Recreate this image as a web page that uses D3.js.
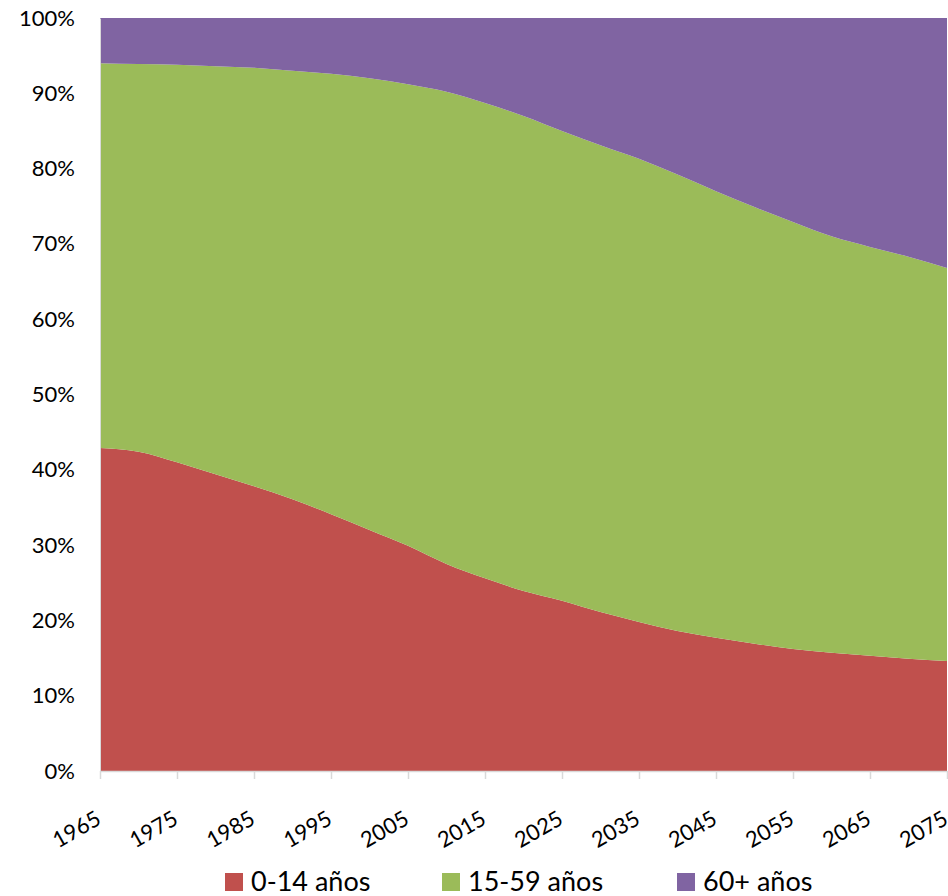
<!DOCTYPE html>
<html>
<head>
<meta charset="utf-8">
<script src="https://cdn.jsdelivr.net/npm/d3@7"></script>
<style>
  html, body { margin: 0; padding: 0; background: #fff; }
  svg { display: block; }
  text { font-family: Lato, "Open Sans", sans-serif; fill: #000; }
</style>
</head>
<body>
<svg id="chart" width="948" height="896"></svg>
<script>
const years = [1965,1970,1975,1980,1985,1990,1995,2000,2005,2010,2015,2020,2025,2030,2035,2040,2045,2050,2055,2060,2065,2070,2075];
const age0_14  = [42.9,42.4,41.0,39.4,37.8,36.1,34.1,32.0,29.9,27.5,25.6,23.9,22.6,21.1,19.8,18.6,17.7,16.9,16.2,15.7,15.3,14.9,14.6];
const age15_59 = [51.1,51.5,52.8,54.2,55.6,56.9,58.5,60.0,61.3,62.7,63.1,63.1,62.4,62.0,61.5,60.6,59.3,58.0,56.7,55.3,54.3,53.4,52.2];
const age60    = [6.0,6.1,6.2,6.4,6.6,7.0,7.4,8.0,8.8,9.8,11.3,13.0,15.0,16.9,18.7,20.8,23.0,25.1,27.1,29.0,30.4,31.7,33.2];
const seriesNames = ["0-14 años","15-59 años","60+ años"];
const seriesColors = ["#C0504D","#9BBB59","#8064A2"];
const tickYears = [1965,1975,1985,1995,2005,2015,2025,2035,2045,2055,2065,2075];
const yTicks = [0,10,20,30,40,50,60,70,80,90,100];

const rows = years.map((y,i) => ({year:y, "0-14 años":age0_14[i], "15-59 años":age15_59[i], "60+ años":age60[i]}));

const svg = d3.select("#chart");
const m = {left:100, right:947, top:18, bottom:771};
const x = d3.scaleLinear().domain([1965,2075]).range([m.left, m.right]);
const y = d3.scaleLinear().domain([0,100]).range([m.bottom, m.top]);

const stack = d3.stack().keys(seriesNames).offset(d3.stackOffsetExpand);
const layers = stack(rows);
const area = d3.area()
  .curve(d3.curveMonotoneX)
  .x(d => x(d.data.year))
  .y0(d => y(d[0]*100))
  .y1(d => y(d[1]*100));

svg.append("g").selectAll("path").data(layers).join("path")
  .attr("d", area)
  .attr("fill", (d,i) => seriesColors[i]);

// Y axis
const yAxis = svg.append("g").attr("transform", `translate(${m.left},0)`)
  .call(d3.axisLeft(y).tickValues(yTicks).tickFormat(d => d + "%").tickSize(0).tickPadding(25));
yAxis.select(".domain").attr("stroke", "#d9d9d9").attr("stroke-width", 1);
yAxis.selectAll("text").attr("font-size", 22).attr("font-family", "Lato, sans-serif").attr("fill","#000");

// X axis
const xAxis = svg.append("g").attr("transform", `translate(0,${m.bottom})`)
  .call(d3.axisBottom(x).tickValues(tickYears).tickFormat(d3.format("d")).tickSize(8).tickSizeOuter(0));
xAxis.select(".domain").attr("stroke", "#d9d9d9").attr("stroke-width", 1.5);
xAxis.selectAll(".tick line").attr("stroke", "#d9d9d9").attr("stroke-width", 1.5);
xAxis.selectAll("text")
  .attr("font-size", 22).attr("font-family", "Lato, sans-serif").attr("fill","#000")
  .attr("text-anchor", "end")
  .attr("dy", null).attr("y", null)
  .attr("transform", "translate(2,52) rotate(-30)");

// Legend
const legendItems = [
  {name: seriesNames[0], color: seriesColors[0], x: 225},
  {name: seriesNames[1], color: seriesColors[1], x: 442},
  {name: seriesNames[2], color: seriesColors[2], x: 677}
];
const lg = svg.append("g");
legendItems.forEach(it => {
  lg.append("rect").attr("x", it.x).attr("y", 873).attr("width", 18).attr("height", 18).attr("fill", it.color);
  lg.append("text").attr("x", it.x + 26).attr("y", 891).attr("font-size", 27).text(it.name);
});
</script>
</body>
</html>
